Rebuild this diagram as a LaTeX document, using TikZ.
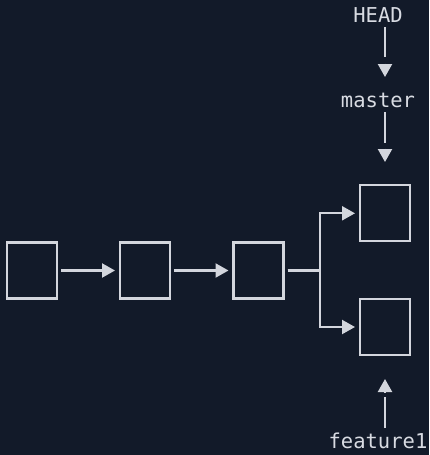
\documentclass[tikz,border=0pt]{standalone}
\usepackage{fontspec}
\newfontfamily\monofnt{DejaVu Sans Mono}
\usetikzlibrary{arrows.meta,calc}
\definecolor{bgc}{HTML}{121A29}
\definecolor{linec}{HTML}{D3D6DD}
\definecolor{textc}{HTML}{D8DBE2}
\begin{document}
\begin{tikzpicture}[x=1pt,y=-1pt,
  commit/.style={draw=linec,line width=2.2pt,minimum width=50pt,minimum height=56pt,inner sep=0pt,outer sep=1pt},
  label/.style={text=textc,font=\monofnt\fontsize{20.5}{24}\selectfont,inner sep=0pt,anchor=base},
  conn/.style={draw=linec,line width=2.2pt,-{Triangle[length=13pt,width=14pt]}},
  shaft/.style={draw=linec,line width=2.2pt},
  tiponly/.style={draw=linec,line width=2.2pt,-{Triangle[length=13pt,width=14pt]}}]
\fill[bgc] (0,0) rectangle (429,455);
\useasboundingbox (0,0) rectangle (429,455);
% commits
\node[commit] (c1) at (32,270.5) {};
\node[commit] (c2) at (145,270.5) {};
\node[commit] (c3) at (258.5,270.5) {};
\node[commit] (c4) at (385,213.3) {};
\node[commit] (c5) at (385,327) {};
% labels
\node[label] (head) at (378,22) {HEAD};
\node[label] (master) at (378,107.3) {master};
\node[label] (feat) at (378,448.3) {feature1};
% commit links
\draw[conn,shorten <=3pt,shorten >=4pt] (c1) -- (c2);
\draw[conn,shorten <=3pt,shorten >=4pt] (c2) -- (c3);
\draw[conn,shorten <=3pt,shorten >=4pt] (c3.east) -- ++(35.5,0) |- (c4.west);
\draw[conn,shorten <=3pt,shorten >=4pt] (c3.east) -- ++(35.5,0) |- (c5.west);
% HEAD -> master
\draw[shaft,shorten <=5pt,shorten >=50.3pt] (head.base -| c4.center) -- (master.base -| c4.center);
\draw[tiponly,shorten <=41.5pt,shorten >=30.3pt] (head.base -| c4.center) -- (master.base -| c4.center);
% master -> c4
\draw[shaft,shorten <=4.7pt,shorten >=70.3pt] (master.base -| c4.center) -- (c4.center);
\draw[tiponly,shorten <=41.2pt,shorten >=51.3pt] (master.base -| c4.center) -- (c4.center);
% feature1 -> c5
\draw[shaft,shorten <=20.3pt,shorten >=70pt] (feat.base -| c5.center) -- (c5.center);
\draw[tiponly,shorten <=55.8pt,shorten >=52pt] (feat.base -| c5.center) -- (c5.center);
\end{tikzpicture}
\end{document}
